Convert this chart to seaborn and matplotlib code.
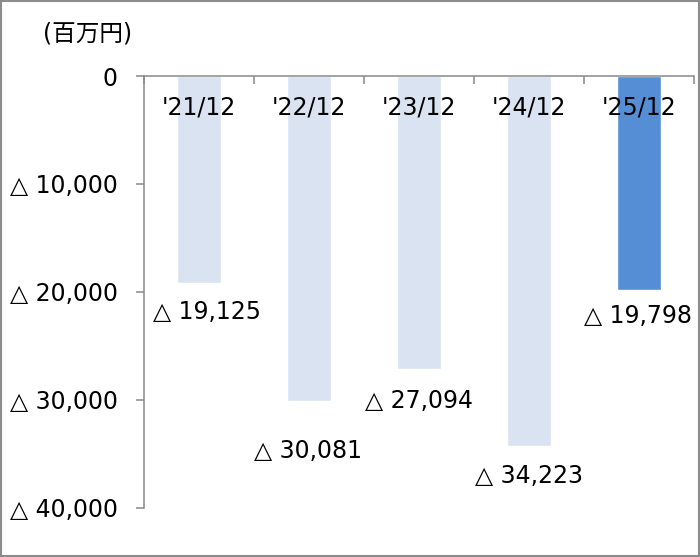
import matplotlib
matplotlib.use("Agg")
import matplotlib.pyplot as plt
from matplotlib.patches import Rectangle
from matplotlib.ticker import FuncFormatter, FixedLocator
import seaborn as sns

categories = ["'21/12", "'22/12", "'23/12", "'24/12", "'25/12"]
values = [-19125, -30081, -27094, -34223, -19798]
unit_label = "(百万円)"
bar_colors = ["#DAE3F1", "#DAE3F1", "#DAE3F1", "#DAE3F1", "#558ED5"]

# label offsets below bar end (points): style only
label_offsets = [(6, -21), (-1, -36), (0, -23), (0, -22), (-1, -19)]

FS = 17

sns.set_theme(style="white")
plt.rcParams["font.family"] = ["DejaVu Sans", "Noto Sans CJK JP"]
plt.rcParams["font.size"] = FS

fig = plt.figure(figsize=(7.0, 5.57), dpi=100)
ax = fig.add_axes([144 / 700, 1 - 508 / 557, 550 / 700, 432 / 557])

sns.barplot(x=categories, y=values, hue=categories, palette=bar_colors,
            legend=False, width=0.4, saturation=1, ax=ax)

ax.set_xlim(-0.5, len(categories) - 0.5)
ax.set_ylim(-40000, 0)


def fmt(v, pos):
    if v == 0:
        return "0"
    return f"△ {abs(v):,.0f}"


ax.yaxis.set_major_locator(FixedLocator([0, -10000, -20000, -30000, -40000]))
ax.yaxis.set_major_formatter(FuncFormatter(fmt))
ax.tick_params(axis="y", left=True, direction="out", length=6, width=1.1,
               color="#898989", pad=13, labelsize=FS, labelcolor="#000000")

# x axis on top at 0, boundary ticks pointing down, no labels
ax.xaxis.tick_top()
ax.set_xticks([i - 0.5 for i in range(len(categories) + 1)])
ax.set_xticklabels([])
ax.tick_params(axis="x", top=True, bottom=False, direction="in", length=6,
               width=1.1, color="#898989")
ax.set_xlabel("")
ax.set_ylabel("")

for side in ["bottom", "right"]:
    ax.spines[side].set_visible(False)
for side in ["top", "left"]:
    ax.spines[side].set_color("#898989")
    ax.spines[side].set_linewidth(1.1)

# category names inside the plot
for i, cat in enumerate(categories):
    ax.annotate(cat, xy=(i, 0), xytext=(0, -23), textcoords="offset points",
                ha="center", va="center", fontsize=FS, color="#000000")

# value labels below bars
for i, v in enumerate(values):
    dx, dy = label_offsets[i]
    ax.annotate(f"△ {abs(v):,}", xy=(i, v), xytext=(dx, dy),
                textcoords="offset points", ha="center", va="center",
                fontsize=FS, color="#000000")

fig.text(88 / 700, 1 - 33 / 557, unit_label, ha="center", va="center",
         fontsize=FS, color="#000000")

fig.patches.append(Rectangle((0.002, 0.002), 0.996, 0.996, transform=fig.transFigure,
                             fill=False, edgecolor="#8C8C8C", linewidth=1.5))

fig.savefig("out.png", dpi=100)
